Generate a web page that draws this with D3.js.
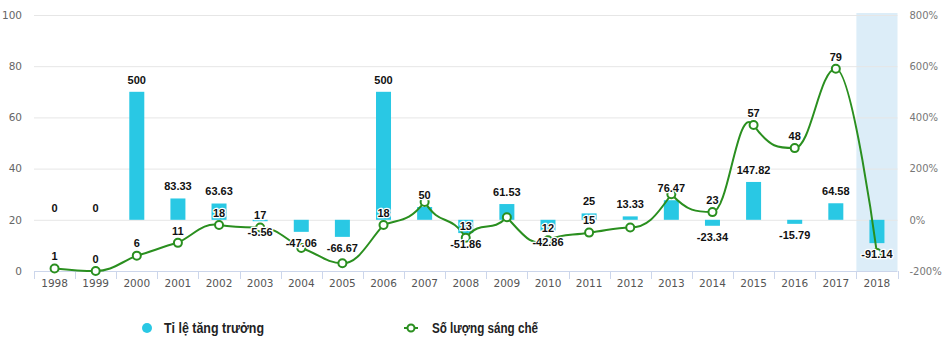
<!DOCTYPE html>
<html><head><meta charset="utf-8">
<script src="https://cdn.jsdelivr.net/npm/d3@7"></script>
<style>
body{margin:0;background:#fff;}
svg{display:block;font-family:"DejaVu Sans",Verdana,sans-serif;}
</style></head>
<body><svg id="c" width="947" height="341"></svg>
<script>
const years = ["1998","1999","2000","2001","2002","2003","2004","2005","2006","2007","2008","2009","2010","2011","2012","2013","2014","2015","2016","2017","2018"];
const growthRate = [0,0,500,83.33,63.63,-5.56,-47.06,-66.67,500,50,-51.86,61.53,-42.86,25,13.33,76.47,-23.34,147.82,-15.79,64.58,-91.14];
const patentCount = [1,0,6,11,18,17,9,3,18,27,13,21,12,15,17,30,23,57,48,79,7];
const leftTicks = [0,20,40,60,80,100];
const rightTicks = [-200,0,200,400,600,800];
const highlightYear = "2018";
const seriesNames = ["Tỉ lệ tăng trưởng","Số lượng sáng chế"];

const barColor = "#29c8e4", lineColor = "#2a8f1f";
const svg = d3.select("#c");
const L = 34, R = 897.5, T = 15, B = 271;
const x = d3.scaleBand().domain(years).range([L, R]).padding(0);
const yL = d3.scaleLinear().domain([0,100]).range([B, T]);
const yR = d3.scaleLinear().domain([-200,800]).range([B, T]);
const cx = d => x(d) + x.bandwidth()/2;

// plot band
svg.append("rect").attr("x", x(highlightYear)).attr("y", T - 2)
  .attr("width", x.bandwidth()).attr("height", B - T + 2).attr("fill", "#dcedf8");

// grid
svg.append("g").selectAll("line").data(leftTicks.filter(t=>t>0)).join("line")
  .attr("x1", L).attr("x2", R).attr("y1", d=>yL(d)+0.5).attr("y2", d=>yL(d)+0.5)
  .attr("stroke", "#e6e6e6").attr("stroke-width", 1);

// left axis
const gl = svg.append("g").attr("transform", `translate(${L},0)`)
  .call(d3.axisLeft(yL).tickValues(leftTicks).tickSize(0).tickPadding(12));
gl.select(".domain").remove();
gl.selectAll("text").attr("font-size", 10.5).attr("fill", "#666").attr("font-family", "DejaVu Sans, sans-serif");

// right axis
const gr = svg.append("g").attr("transform", `translate(${R},0)`)
  .call(d3.axisRight(yR).tickValues(rightTicks).tickSize(0).tickPadding(12).tickFormat(d=>d+"%"));
gr.select(".domain").remove();
gr.selectAll("text").attr("font-size", 10).attr("fill", "#777").attr("font-family", "DejaVu Sans, sans-serif");

// x axis
const gx = svg.append("g").attr("transform", `translate(0,${B})`)
  .call(d3.axisBottom(x).tickSize(0).tickPadding(9));
gx.select(".domain").attr("stroke", "#ccd6eb").attr("d", `M${L},0.5H${R}`);
gx.selectAll("text").attr("font-size", 10.5).attr("fill", "#555").attr("font-family", "DejaVu Sans, sans-serif");
const bounds = years.map(y => x(y)).concat([R]);
gx.append("g").selectAll("line").data(bounds).join("line")
  .attr("x1", d=>Math.round(d)+0.5).attr("x2", d=>Math.round(d)+0.5).attr("y1", 0).attr("y2", 8)
  .attr("stroke", "#ccd6eb");

// bars
const bw = 15;
svg.append("g").selectAll("rect").data(years).join("rect")
  .attr("x", (d)=>cx(d)-bw/2)
  .attr("y", (d,i)=>Math.min(yR(growthRate[i]), yR(0)))
  .attr("width", bw)
  .attr("height", (d,i)=>Math.abs(yR(growthRate[i]) - yR(0)))
  .attr("fill", barColor);

// Highcharts-like spline path
const pts = years.map((d,i)=>({x: cx(d), y: yL(patentCount[i])}));
function splinePath(p){
  const sm = 1.5, den = sm + 1;
  const ctrl = p.map(()=>({}));
  for (let i=1;i<p.length-1;i++){
    const a=p[i-1], b=p[i], c=p[i+1];
    let lx=(sm*b.x+a.x)/den, ly=(sm*b.y+a.y)/den, rx=(sm*b.x+c.x)/den, ry=(sm*b.y+c.y)/den;
    let corr=0;
    if (lx!==rx) corr = ((ry-ly)*(rx-b.x))/(rx-lx) + ly - b.y;
    ly+=corr; ry+=corr;
    if (ly>a.y && ly>b.y){ ly=Math.max(a.y,b.y); ry=2*b.y-ly; }
    else if (ly<a.y && ly<b.y){ ly=Math.min(a.y,b.y); ry=2*b.y-ly; }
    if (ry>c.y && ry>b.y){ ry=Math.max(c.y,b.y); ly=2*b.y-ry; }
    else if (ry<c.y && ry<b.y){ ry=Math.min(c.y,b.y); ly=2*b.y-ry; }
    ctrl[i]={lx,ly,rx,ry};
  }
  let s=`M${p[0].x},${p[0].y}`;
  for (let i=1;i<p.length;i++){
    const pr=ctrl[i-1], cu=ctrl[i];
    const c1x = pr.rx!==undefined?pr.rx:p[i-1].x, c1y = pr.ry!==undefined?pr.ry:p[i-1].y;
    const c2x = cu.lx!==undefined?cu.lx:p[i].x, c2y = cu.ly!==undefined?cu.ly:p[i].y;
    s+=`C${c1x},${c1y},${c2x},${c2y},${p[i].x},${p[i].y}`;
  }
  return s;
}
svg.append("path").attr("d", splinePath(pts)).attr("fill","none")
  .attr("stroke", lineColor).attr("stroke-width", 2);
svg.append("g").selectAll("circle").data(pts).join("circle")
  .attr("cx", d=>d.x).attr("cy", d=>d.y).attr("r", 4)
  .attr("fill", "#fff").attr("stroke", lineColor).attr("stroke-width", 2);

// data labels
const lblG = svg.append("g").attr("font-family","Liberation Sans, Arial, sans-serif")
  .attr("font-size", 11).attr("font-weight", "bold").attr("text-anchor","middle");
function lbl(xp, yp, t){
  return lblG.append("text").attr("x", xp).attr("y", yp).attr("dy","0.35em")
    .attr("fill","#111").attr("stroke","#fff").attr("stroke-width",2.5)
    .attr("stroke-linejoin","round").attr("paint-order","stroke").text(t);
}
const fmt = v => String(v);
const barLbls = years.map((d,i)=>{
  const v = growthRate[i];
  const yy = v>=0 ? yR(v)-12 : yR(v)+11;
  return {x: cx(d), y: yy, el: lbl(cx(d), yy, fmt(v))};
});
years.forEach((d,i)=>{
  const yy = yL(patentCount[i]) - 12;
  const bl = barLbls[i];
  if (Math.abs(bl.y - yy) < 13.35) return; // hide overlapping label
  lbl(cx(d), yy, fmt(patentCount[i]));
});

// legend
const lg = svg.append("g").attr("font-family","Liberation Sans, Arial, sans-serif")
  .attr("font-size", 14).attr("font-weight","bold").attr("fill","#222");
lg.append("circle").attr("cx",147).attr("cy",328).attr("r",5).attr("fill",barColor);
lg.append("text").attr("x",164).attr("y",328).attr("dy","0.35em").text(seriesNames[0])
  .attr("textLength",100).attr("lengthAdjust","spacingAndGlyphs");
lg.append("line").attr("x1",404).attr("x2",418).attr("y1",328).attr("y2",328)
  .attr("stroke",lineColor).attr("stroke-width",2);
lg.append("circle").attr("cx",411).attr("cy",328).attr("r",3.5).attr("fill","#fff")
  .attr("stroke",lineColor).attr("stroke-width",2);
lg.append("text").attr("x",432).attr("y",328).attr("dy","0.35em").text(seriesNames[1])
  .attr("textLength",106).attr("lengthAdjust","spacingAndGlyphs");
</script></body></html>
